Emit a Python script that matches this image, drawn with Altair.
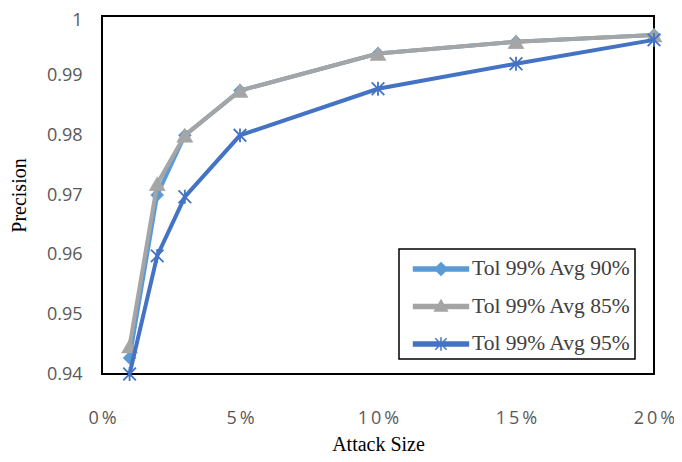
import altair as alt
import pandas as pd

# ---- data ----
attack_size = [0.01, 0.02, 0.03, 0.05, 0.10, 0.15, 0.20]
series_names = ["Tol 99% Avg 90%", "Tol 99% Avg 85%", "Tol 99% Avg 95%"]
avg90 = [0.9427, 0.9700, 0.9800, 0.9875, 0.9937, 0.9957, 0.9968]
avg85 = [0.9447, 0.9719, 0.9800, 0.9875, 0.9937, 0.9957, 0.9968]
avg95 = [0.9400, 0.9598, 0.9697, 0.9800, 0.9878, 0.9920, 0.9960]
x_ticks = [0.0, 0.05, 0.10, 0.15, 0.20]
y_ticks = [0.94, 0.95, 0.96, 0.97, 0.98, 0.99, 1.0]

# ---- styles ----
colors = ["#5B9BD5", "#A5A5A5", "#4472C4"]
ASTER = "M-1,-1L1,1M-1,1L1,-1M0,-1.1L0,1.1"
plot_shapes = ["diamond", "triangle-up", ASTER]
plot_sizes = [170, 260, 160]
plot_strokes = [0.5, 0.5, 1.8]
LINE = "M-1.83,-0.13H1.83V0.13H-1.83Z"
legend_paths = [
    LINE + "M0,-0.42L0.42,0L0,0.42L-0.42,0Z",
    LINE + "M0,-0.42L0.42,0.3L-0.42,0.3Z",
    LINE + "M-0.38,-0.38L0.38,0.38M-0.38,0.38L0.38,-0.38M0,-0.45L0,0.45",
]

W, H = 552, 358

rows = []
for name, vals in zip(series_names, [avg90, avg85, avg95]):
    for xv, yv in zip(attack_size, vals):
        rows.append({"series": name, "attack": xv, "precision": yv})
df = pd.DataFrame(rows)

x_enc = alt.X(
    "attack:Q",
    scale=alt.Scale(domain=[0, 0.2], nice=False, zero=False),
    axis=alt.Axis(
        values=x_ticks,
        format=".0%",
        labelExpr="join(split(datum.label, ''), '\u2009')",
        labelFlush=False,
        labelPadding=35,
        titleX=W / 2,
        titleY=70,
        titleBaseline="middle",
    ),
    title="Attack Size",
)
y_enc = alt.Y(
    "precision:Q",
    scale=alt.Scale(domain=[0.94, 1.0], nice=False, zero=False),
    axis=alt.Axis(
        values=y_ticks,
        format="~g",
        labelFlush=False,
        labelPadding=20,
        labelOffset={"condition": {"test": "datum.value >= 0.9999", "value": 4}, "value": 0},
        titleX=-83,
        titleY=H / 2,
        titleAngle=270,
        titleBaseline="middle",
        titleAlign="center",
    ),
    title="Precision",
)

layers = []
for i, name in enumerate(series_names):
    base = alt.Chart(df).transform_filter(alt.datum.series == name)
    layers.append(
        base.mark_line(color=colors[i], strokeWidth=4).encode(x=x_enc, y=y_enc)
    )
    layers.append(
        base.mark_point(
            shape=plot_shapes[i],
            size=plot_sizes[i],
            filled=True,
            fill=colors[i],
            stroke=colors[i],
            strokeWidth=plot_strokes[i],
            opacity=1,
        ).encode(x=x_enc, y=y_enc)
    )

leg = alt.Legend(title=None)
legend_layer = (
    alt.Chart(df)
    .transform_filter("false")
    .mark_point(filled=True, opacity=1, strokeWidth=1.5)
    .encode(
        x=x_enc,
        y=y_enc,
        fill=alt.Fill("series:N", scale=alt.Scale(domain=series_names, range=colors), legend=leg),
        stroke=alt.Stroke("series:N", scale=alt.Scale(domain=series_names, range=colors), legend=leg),
        shape=alt.Shape("series:N", scale=alt.Scale(domain=series_names, range=legend_paths), legend=leg),
    )
)

chart = (
    alt.layer(legend_layer, *layers)
    .properties(
        width=W,
        height=H,
        padding={"left": 94, "top": 8, "right": 20, "bottom": 80},
        autosize=alt.AutoSizeParams(type="none"),
    )
    .configure_view(stroke="black", strokeWidth=2)
    .configure_axis(
        grid=False,
        domain=False,
        ticks=False,
        labelFont="Open Sans",
        labelFontSize=18,
        labelColor="#595959",
        titleFont="Liberation Serif",
        titleFontSize=20,
        titleFontWeight="normal",
        titleColor="#000000",
    )
    .configure_legend(
        orient="none",
        legendX=297,
        legendY=233,
        padding=4,
        symbolOffset=22,
        labelOffset=15,
        rowPadding=10.5,
        symbolSize=900,
        symbolStrokeWidth=1.5,
        labelFont="Liberation Serif",
        labelFontSize=21.5,
        labelColor="#404040",
        labelLimit=400,
        strokeColor="black",
        strokeWidth=1.5,
    )
)

chart.save("out.html", embed_options={"renderer": "svg", "actions": False})
